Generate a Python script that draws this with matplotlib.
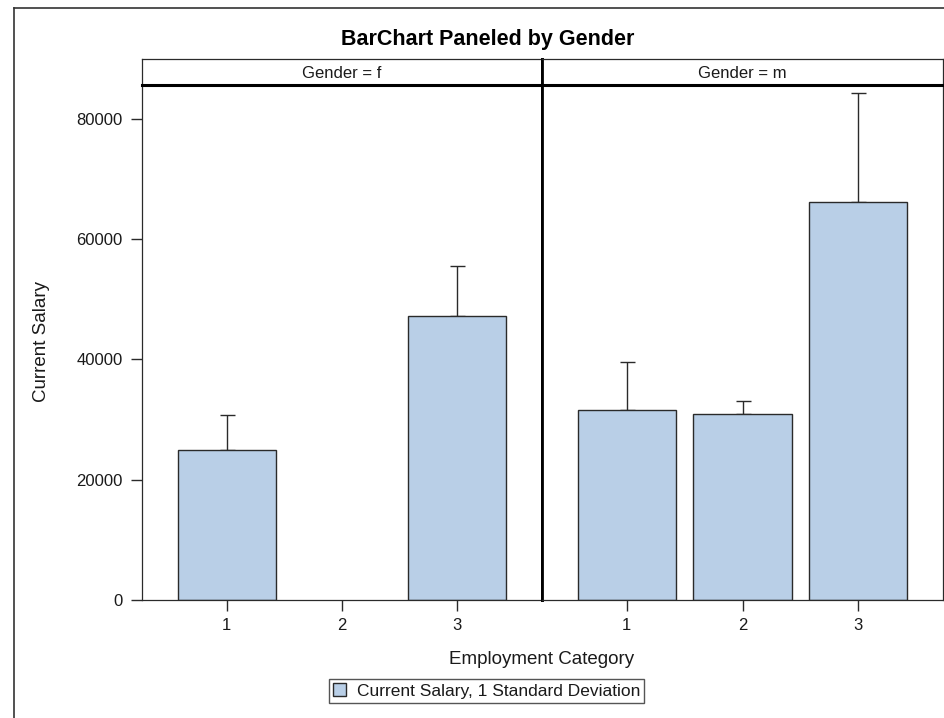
import numpy as np
import matplotlib
matplotlib.use("Agg")
import matplotlib.pyplot as plt
from matplotlib.patches import Patch
from matplotlib.lines import Line2D

plt.rcParams['font.family'] = ['Liberation Sans', 'DejaVu Sans']

# ---- data ----
categories = [1, 2, 3]
panels = ["f", "m"]
salary_f = [24980, np.nan, 47180]
sd_f = [5830, np.nan, 8330]
salary_m = [31640, 30860, 66160]
sd_m = [7880, 2210, 18100]
yticks = [0, 20000, 40000, 60000, 80000]

title = "BarChart Paneled by Gender"
xlabel = "Employment Category"
ylabel = "Current Salary"
legend_label = "Current Salary, 1 Standard Deviation"

W, H = 945, 718
fig = plt.figure(figsize=(W / 100, H / 100), dpi=100)

BAR = "#B9CFE7"
EDGE = "#2a2a2a"
TXT = "#1a1a1a"

def fx(px):
    return px / W

def fy(py):
    return 1 - py / H

left_px, mid_px, right_px = 142, 542, 943
top_px, head_px, bot_px = 59, 85, 600

series = [(salary_f, sd_f), (salary_m, sd_m)]
axes = []
for i, (vals, sds) in enumerate(series):
    x0 = left_px if i == 0 else mid_px
    x1 = mid_px if i == 0 else right_px
    ax = fig.add_axes([fx(x0), fy(bot_px), fx(x1 - x0), (bot_px - head_px) / H])
    cats = np.array(categories, dtype=float)
    v = np.array(vals, dtype=float)
    s = np.array(sds, dtype=float)
    ok = ~np.isnan(v)
    ax.bar(cats[ok], v[ok], width=0.85, color=BAR, edgecolor=EDGE, linewidth=1.0, zorder=2)
    ax.errorbar(cats[ok], v[ok], yerr=[np.zeros(ok.sum()), s[ok]], fmt='none',
                ecolor=EDGE, elinewidth=1.0, capsize=5.4, capthick=1.0, zorder=1)
    ax.set_xlim(2 - 1.733, 2 + 1.733)
    ax.set_ylim(0, 85650)
    ax.set_xticks(categories)
    ax.set_xticklabels([str(c) for c in categories])
    ax.tick_params(axis='x', length=8, width=1, color=EDGE, labelsize=12, pad=5, labelcolor=TXT)
    ax.set_yticks(yticks)
    if i == 0:
        ax.set_yticklabels([str(t) for t in yticks])
        ax.tick_params(axis='y', length=8, width=1, color=EDGE, labelsize=12, pad=6, labelcolor=TXT)
    else:
        ax.tick_params(axis='y', left=False, labelleft=False)
    for sp in ax.spines.values():
        sp.set_color(EDGE)
        sp.set_linewidth(0.9)
    ax.spines['top'].set_visible(False)
    if i == 0:
        ax.spines['right'].set_linewidth(2.0)
        ax.spines['right'].set_color('black')
    else:
        ax.spines['left'].set_linewidth(2.0)
        ax.spines['left'].set_color('black')
    axes.append(ax)

    # header strip
    hx = fig.add_axes([fx(x0), fy(head_px), fx(x1 - x0), (head_px - top_px) / H])
    hx.set_xticks([]); hx.set_yticks([])
    for sp in hx.spines.values():
        sp.set_color(EDGE)
        sp.set_linewidth(0.9)
    hx.spines['bottom'].set_linewidth(2.2)
    hx.spines['bottom'].set_color('black')
    if i == 0:
        hx.spines['right'].set_linewidth(2.0)
        hx.spines['right'].set_color('black')
    else:
        hx.spines['left'].set_linewidth(2.0)
        hx.spines['left'].set_color('black')
    hx.text(0.5, 0.45, f"Gender = {panels[i]}", ha='center', va='center',
            fontsize=12, color=TXT, transform=hx.transAxes)

# title
fig.text(fx(487.5), fy(39), title, ha='center', va='center', fontsize=15.5,
         fontweight='bold', color='black')
# axis labels
fig.text(fx(542), fy(660), xlabel, ha='center', va='center', fontsize=13.5, color=TXT)
fig.text(fx(42), fy(342), ylabel, ha='center', va='center', rotation=90,
         fontsize=13.5, color=TXT)

# legend
handle = Patch(facecolor=BAR, edgecolor=EDGE, linewidth=1.0)
leg = fig.legend([handle], [legend_label], loc='center',
                 bbox_to_anchor=(fx(486.5), fy(691)), fontsize=12.5,
                 frameon=True, fancybox=False, shadow=False,
                 handlelength=0.75, handleheight=0.75, handletextpad=0.6,
                 borderpad=0.25, borderaxespad=0)
leg.get_frame().set_edgecolor(EDGE)
leg.get_frame().set_linewidth(1.0)
for t in leg.get_texts():
    t.set_color(TXT)

# outer border
fig.add_artist(Line2D([fx(14), fx(14)], [fy(8), 0], transform=fig.transFigure,
                      color='#333333', linewidth=1.2))
fig.add_artist(Line2D([fx(14), 1], [fy(8), fy(8)], transform=fig.transFigure,
                      color='#333333', linewidth=1.2))

fig.savefig("out.png", dpi=100)
